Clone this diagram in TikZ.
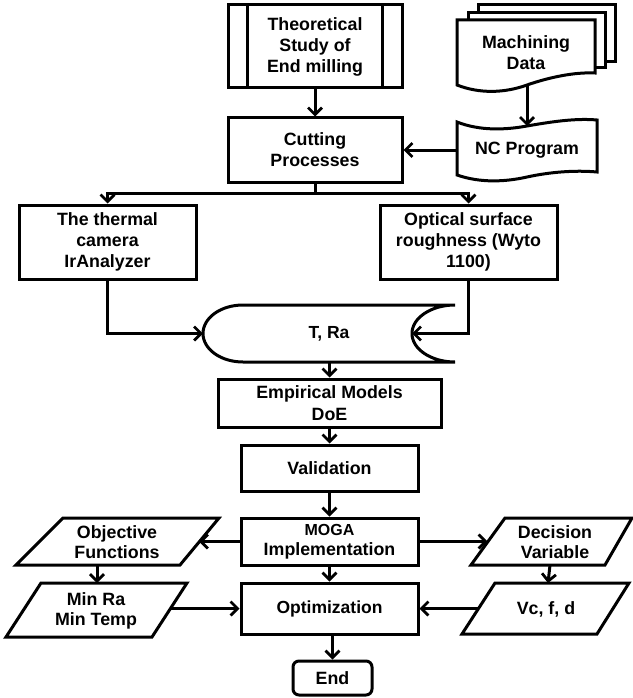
\documentclass[tikz,border=0pt]{standalone}
\usepackage{fontspec}
\setmainfont{Liberation Sans}
\usetikzlibrary{arrows.meta}
\begin{document}
\begin{tikzpicture}[x=1pt,y=-1pt,line width=3pt,line join=miter,
  lbl/.style={align=center,inner sep=0pt,font=\fontsize{17.8}{21}\selectfont\bfseries},
  box/.style={lbl,draw,rectangle},
  arr/.style={-{Straight Barb[length=7pt,width=14pt,line width=2.8pt]}},
]
\useasboundingbox (0,0) rectangle (632,698);

% ---- top boxes
\node[box,minimum width=174pt,minimum height=83pt] (theo) at (315,46.5) {Theoretical\\Study of\\End milling};
\draw ([xshift=21pt]theo.north west) -- ([xshift=21pt]theo.south west);
\draw ([xshift=-21pt]theo.north east) -- ([xshift=-21pt]theo.south east);
\node[box,minimum width=174pt,minimum height=64pt] (cut) at (315,150) {Cutting\\Processes};

% ---- machining data (multi document)
\draw (478,13) -- (478,5) -- (615,5) -- (615,62) -- (605,62);
\draw (468,20) -- (468,13) -- (605,13) -- (605,68) -- (595,68);
\draw[fill=white] (457,85) -- (457,20) -- (595,20) -- (595,73)
  .. controls (575,72) and (550,77) .. (527,85)
  .. controls (505,93) and (480,94) .. (457,85) -- cycle;
\node[lbl] (md) at (526,53) {Machining\\Data};
\coordinate (md-s) at (527,85);

% ---- NC program (punched tape)
\draw (457,122) .. controls (480,131) and (505,130) .. (527,126)
  .. controls (550,122) and (575,118) .. (597,120) -- (597,172)
  .. controls (575,170) and (550,172) .. (527,177)
  .. controls (505,182) and (480,183) .. (457,175) -- cycle;
\node[lbl] (nc) at (527,150) {NC Program};
\coordinate (nc-n) at (527,126);
\coordinate (nc-w) at (457,150);

% ---- measurement boxes
\node[box,minimum width=177pt,minimum height=74pt] (therm) at (107.5,242) {The thermal\\camera\\IrAnalyzer};
\node[box,minimum width=177pt,minimum height=74pt] (opt) at (468.5,242) {Optical surface\\roughness (Wyto\\1100)};

% ---- stored data T, Ra
\draw (243,305) -- (455,305)
  .. controls (431.25,305) and (412,317.76) .. (412,333.5)
  .. controls (412,349.24) and (431.25,362) .. (455,362) -- (243,362)
  .. controls (220.9,362) and (203,349.24) .. (203,333.5)
  .. controls (203,317.76) and (220.9,305) .. (243,305) -- cycle;
\node[lbl,font=\fontsize{17.5}{20}\selectfont\bfseries] (tra) at (329,334) {T, Ra};
\coordinate (tra-w) at (203,333.5);
\coordinate (tra-e) at (412,333.5);
\coordinate (tra-s) at (329.5,362);

% ---- central column
\node[box,minimum width=223pt,minimum height=48pt,font=\fontsize{17.8}{22.5}\selectfont\bfseries] (emp) at (329.5,403) {Empirical Models\\DoE};
\node[box,minimum width=177pt,minimum height=46pt] (val) at (329.5,468) {Validation};
\node[box,minimum width=177pt,minimum height=47pt,font=\fontsize{17.8}{20}\selectfont\bfseries] (moga) at (329.5,541.5) {{\fontsize{16}{18}\selectfont MOGA}\\Implementation};
\node[box,minimum width=177pt,minimum height=51pt,font=\fontsize{17.5}{20}\selectfont\bfseries] (optim) at (329.5,608.5) {Optimization};
\node[box,rounded corners=6pt,minimum width=79pt,minimum height=34pt] (end) at (332.5,678) {End};

% ---- parallelograms
\draw (63,518) -- (219,518) -- (180,565) -- (16,565) -- cycle;
\node[lbl,font=\fontsize{17.8}{20}\selectfont\bfseries] (obj) at (117,542) {Objective\\Functions};
\coordinate (obj-e) at (199,541.5);
\coordinate (obj-s) at (97,565);

\draw (41,583) -- (187,583) -- (152,637) -- (6,637) -- cycle;
\node[lbl,font=\fontsize{17.8}{20}\selectfont\bfseries] (minra) at (96,611) {Min Ra\\Min Temp};
\coordinate (minra-n) at (97,583);
\coordinate (minra-e) at (169.5,608.5);

\draw (505,518) -- (632,518) -- (605,565) -- (471,565) -- cycle;
\node[lbl,font=\fontsize{17.8}{20}\selectfont\bfseries] (dec) at (555,542) {Decision\\Variable};
\coordinate (dec-w) at (487.6,541.5);
\coordinate (dec-s) at (550,565);

\draw (495,583) -- (629,583) -- (597,634) -- (462,634) -- cycle;
\node[lbl] (vc) at (546,609) {Vc, f, d};
\coordinate (vc-n) at (548,583);
\coordinate (vc-w) at (478,608.5);

% ---- connectors
\draw[arr] (theo) -- (cut);
\draw[arr] (md-s) -- (nc-n);
\draw[arr] (nc-w) -- (cut.east);
\coordinate (split) at (315,193);
\draw (cut.south) -- (split);
\draw[arr] (split) -| (therm.north);
\draw[arr] (split) -| (opt.north);
\draw[arr] (therm.south) |- (tra-w);
\draw[arr] (opt.south) |- (tra-e);
\draw[arr] (tra-s) -- (emp.north);
\draw[arr] (emp) -- (val);
\draw[arr] (val) -- (moga);
\draw[arr] (moga) -- (optim);
\draw[arr] (end.north |- optim.south) -- (end.north);
\draw[arr] (moga.west) -- (obj-e);
\draw[arr] (obj-s) -- (minra-n);
\draw[arr] (minra-e) -- (minra-e -| optim.west);
\draw[arr] (moga.east) -- (dec-w);
\draw[arr] (dec-s) -- (vc-n);
\draw[arr] (vc-w) -- (vc-w -| optim.east);
\end{tikzpicture}
\end{document}
